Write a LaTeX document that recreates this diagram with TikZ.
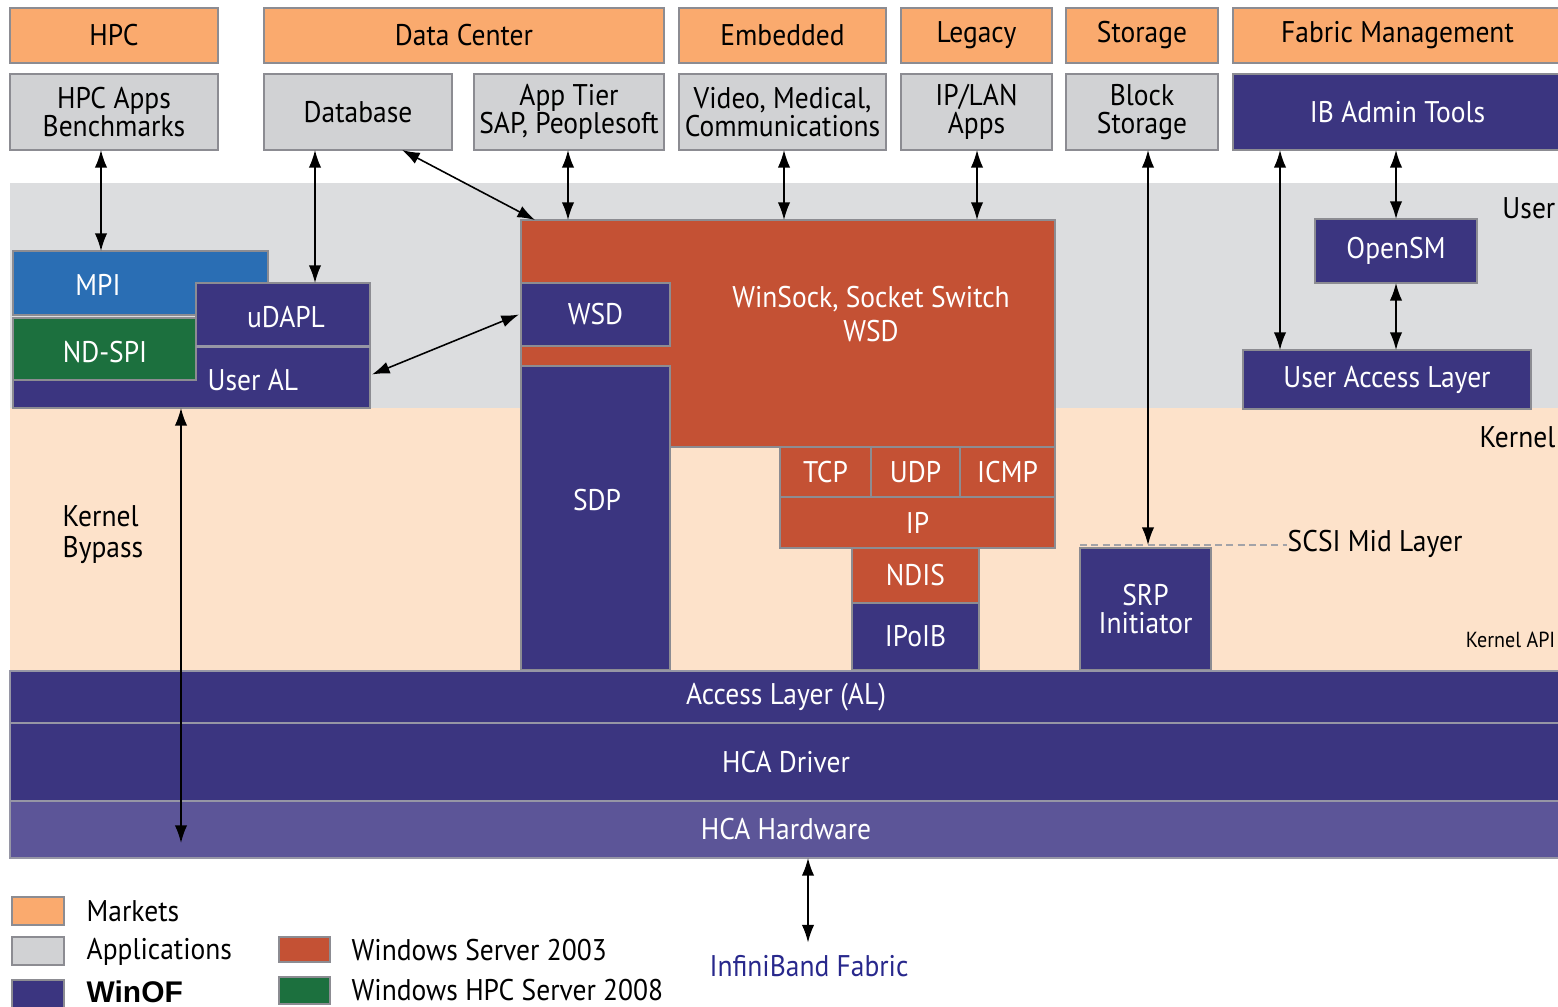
\documentclass[tikz,border=0pt]{standalone}
\usepackage{fontspec}
\setmainfont[FakeStretch=0.92]{PT Sans}
\newfontfamily\arialb{Liberation Sans}
\usetikzlibrary{arrows.meta}
\definecolor{mktc}{RGB}{250,170,110}
\definecolor{appc}{RGB}{209,210,212}
\definecolor{navyc}{RGB}{59,53,128}
\definecolor{mpic}{RGB}{42,110,180}
\definecolor{ndc}{RGB}{28,112,62}
\definecolor{wsc}{RGB}{196,81,52}
\definecolor{userbg}{RGB}{220,221,223}
\definecolor{kernbg}{RGB}{253,226,202}
\definecolor{hwc}{RGB}{92,85,152}
\definecolor{bordc}{RGB}{140,140,146}
\definecolor{sepc}{RGB}{150,150,165}
\definecolor{fabc}{RGB}{40,40,140}
\newcommand{\mkbox}[7]{\node[#1,minimum width={(#4-#2)*0.01cm},minimum height={(#5-#3)*0.01cm}] (#6) at ({(#2+#4)/2},{(#3+#5)/2}) {#7};}
\tikzset{
  base/.style={rectangle, inner sep=0pt, outer sep=0pt, align=center, font=\fontsize{8.5}{7.9}\selectfont, text=white},
  mkt/.style={base, fill=mktc, draw=bordc, line width=0.5pt, text=black},
  app/.style={base, fill=appc, draw=bordc, line width=0.5pt, text=black},
  nv/.style={base, fill=navyc, draw=bordc, line width=0.5pt},
  wsbox/.style={base, fill=wsc, draw=bordc, line width=0.5pt},
  plain/.style={base},
  lbl/.style={inner sep=0pt, align=center, font=\fontsize{8.5}{9}\selectfont},
  arr/.style={{Latex[length=5pt,width=3.5pt]}-{Latex[length=5pt,width=3.5pt]}, line width=0.45pt, black},
  layer/.style={base, fill=navyc, draw=sepc, line width=0.8pt},
}
\begin{document}
\begin{tikzpicture}[x=0.01cm,y=-0.01cm]
\useasboundingbox (0,0) rectangle (1558,1007);
% bands
\fill[userbg] (10,183) rectangle (1558,408);
\fill[kernbg] (10,408) rectangle (1558,670);
% markets
\mkbox{mkt}{10}{8}{218}{63}{mhpc}{HPC}
\mkbox{mkt}{264}{8}{664}{63}{mdc}{Data Center}
\mkbox{mkt}{679}{8}{886}{63}{memb}{Embedded}
\mkbox{mkt}{901}{8}{1052}{63}{mleg}{Legacy}
\mkbox{mkt}{1066}{8}{1218}{63}{msto}{Storage}
\mkbox{mkt}{1233}{8}{1562}{63}{mfab}{Fabric Management}
% applications
\mkbox{app}{10}{74}{218}{150}{ahpc}{HPC Apps\\Benchmarks}
\mkbox{app}{264}{74}{452}{150}{adb}{Database}
\mkbox{app}{474}{74}{664}{150}{atier}{App Tier\\SAP, Peoplesoft}
\mkbox{app}{679}{74}{886}{150}{avid}{Video, Medical,\\Communications}
\mkbox{app}{901}{74}{1052}{150}{aip}{IP/LAN\\Apps}
\mkbox{app}{1066}{74}{1218}{150}{ablk}{Block\\Storage}
\mkbox{nv}{1233}{74}{1562}{150}{aib}{IB Admin Tools}
% left stack
\mkbox{base,fill=mpic,draw=bordc,line width=0.5pt}{13}{251}{268}{315}{mpi}{}
\node[lbl,text=white] (mpit) at (98,285) {MPI};
\mkbox{base,fill=ndc,draw=bordc,line width=0.5pt}{13}{318}{196}{380}{ndspi}{}
\node[lbl,text=white] (ndt) at (105,352) {ND-SPI};
\filldraw[fill=navyc,draw=bordc,line width=0.5pt] (196,283) -- (370,283) -- (370,408) -- (13,408) -- (13,380) -- (196,380) -- cycle;
\draw[sepc,line width=0.6pt] (196,346.5) -- (370,346.5);
\mkbox{plain}{196}{283}{370}{346}{udapl}{}
\node[lbl,text=white] (udaplt) at (286,317) {uDAPL};
\mkbox{plain}{196}{347}{370}{408}{ual}{}
\node[lbl,text=white,anchor=west] (ualt) at (207,380) {User AL};
% winsock
\mkbox{wsbox}{521}{220}{1055}{447}{ws}{}
\node[lbl,text=white,font=\fontsize{8.5}{9.6}\selectfont] (wst) at (871,314) {WinSock, Socket Switch\\WSD};
\mkbox{nv}{521}{283}{670}{346}{wsd}{WSD}
\mkbox{nv}{521}{366}{670}{670}{sdp}{}
\node[lbl,text=white] (sdpt) at (597,500) {SDP};
\mkbox{wsbox}{780}{447}{871}{497}{tcp}{TCP}
\mkbox{wsbox}{871}{447}{960}{497}{udp}{UDP}
\mkbox{wsbox}{960}{447}{1055}{497}{icmp}{ICMP}
\mkbox{wsbox}{780}{497}{1055}{548}{ip}{IP}
\mkbox{wsbox}{852}{548}{979}{603}{ndis}{NDIS}
\mkbox{nv}{852}{603}{979}{670}{ipoib}{IPoIB}
\mkbox{nv}{1080}{548}{1211}{670}{srp}{SRP\\Initiator}
% fabric mgmt
\mkbox{nv}{1315}{219}{1477}{283}{osm}{OpenSM}
\mkbox{nv}{1243}{350}{1531}{409}{ual2}{User Access Layer}
% layers
\mkbox{layer}{10}{671}{1562}{723}{al}{Access Layer (AL)}
\mkbox{layer}{10}{723}{1562}{801}{drv}{HCA Driver}
\mkbox{base,fill=hwc,draw=sepc,line width=0.8pt}{10}{801}{1562}{858}{hw}{HCA Hardware}
% side labels
\node[lbl,anchor=east] (usr) at (1556,208) {User};
\node[lbl,anchor=east] (ker) at (1556,437) {Kernel};
\node[inner sep=0pt,font=\fontsize{6.2}{7}\selectfont,anchor=east] (kapi) at (1556,640) {Kernel API};
\node[lbl,anchor=west,align=left,font=\fontsize{8.5}{8.8}\selectfont] (kb) at (62,535) {Kernel\\Bypass};
\node[lbl,anchor=west] (scsi) at (1287,544) {SCSI Mid Layer};
\draw[bordc!80,line width=0.6pt,dash pattern=on 2pt off 1.2pt] ([yshift=0.03cm]srp.north west) -- ([yshift=0.03cm]srp.north west -| scsi.west);
% coordinates for arrow x positions
\coordinate (x101) at (101,0);
\coordinate (x315) at (315,0);
\coordinate (x568) at (568,0);
\coordinate (x784) at (784,0);
\coordinate (x977) at (977,0);
\coordinate (x1148) at (1148,0);
\coordinate (x1280) at (1280,0);
\coordinate (x1396) at (1396,0);
\coordinate (x181) at (181,0);
\coordinate (x808) at (808,0);
\coordinate (kbend) at (181,843);
% arrows
\draw[arr] (ahpc.south -| x101) -- (mpi.north -| x101);
\draw[arr] (adb.south -| x315) -- (udapl.north -| x315);
\draw[arr] ([xshift=0.44cm]adb.south) -- ([xshift=0.14cm]ws.north west);
\draw[arr] (atier.south -| x568) -- (ws.north -| x568);
\draw[arr] (avid.south -| x784) -- (ws.north -| x784);
\draw[arr] (aip.south -| x977) -- (ws.north -| x977);
\draw[arr] (ablk.south -| x1148) -- ([yshift=0.03cm]srp.north -| x1148);
\draw[arr] (aib.south -| x1280) -- (ual2.north -| x1280);
\draw[arr] (aib.south -| x1396) -- (osm.north -| x1396);
\draw[arr] (osm.south -| x1396) -- (ual2.north -| x1396);
\draw[arr] ([xshift=0.02cm,yshift=0.03cm]ual.east) -- ([xshift=-0.02cm]wsd.west);
\draw[arr] (ual.south -| x181) -- (kbend);
% legend
\mkbox{mkt}{12}{897}{64}{925}{lgm}{}
\mkbox{app}{12}{937}{64}{965}{lga}{}
\mkbox{nv}{12}{980}{64}{1012}{lgw}{}
\mkbox{wsbox}{279}{937}{330}{962}{lgr}{}
\mkbox{base,fill=ndc,draw=bordc,line width=0.5pt}{279}{977}{330}{1004}{lgg}{}
\node[lbl,anchor=west] (tm) at (86,911) {Markets};
\node[lbl,anchor=west] (ta) at (86,952) {Applications};
\node[inner sep=0pt,anchor=west,font=\arialb\bfseries\fontsize{8.5}{9}\selectfont] (tw) at (86,992) {WinOF};
\node[lbl,anchor=west] (tr) at (351,950) {Windows Server 2003};
\node[lbl,anchor=west] (tg) at (351,990) {Windows HPC Server 2008};
\node[lbl,text=fabc] (fab) at (809,966) {InfiniBand Fabric};
\draw[arr] (hw.south -| x808) -- ([yshift=0.12cm]fab.north -| x808);
\end{tikzpicture}
\end{document}
